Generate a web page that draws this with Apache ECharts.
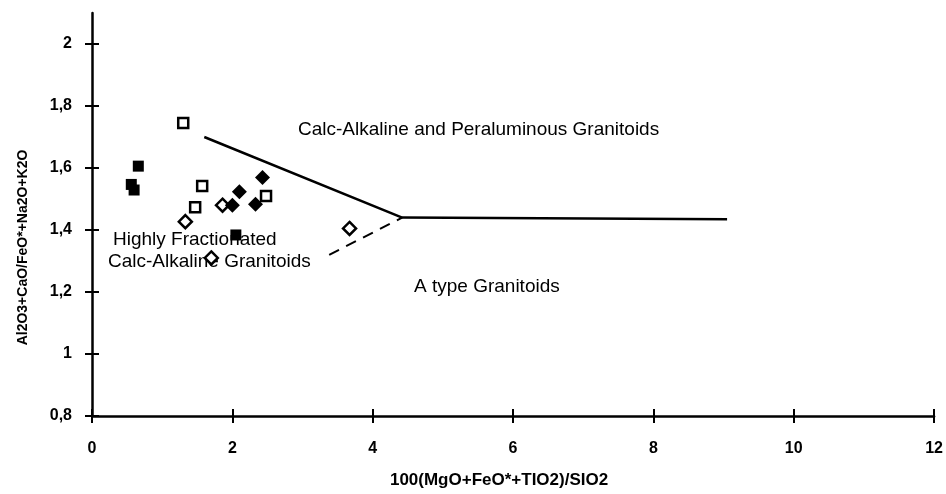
<!DOCTYPE html>
<html>
<head>
<meta charset="utf-8">
<script src="https://cdn.jsdelivr.net/npm/echarts@6/dist/echarts.min.js"></script>
<style>
  html, body { margin: 0; padding: 0; background: #fff; }
  #chart { width: 946px; height: 494px; }
</style>
</head>
<body>
<div id="chart"></div>
<script>
  // tick values
  var xTicks = [0, 2, 4, 6, 8, 10, 12];
  var yTicks = [0.8, 1, 1.2, 1.4, 1.6, 1.8, 2];

  // samples
  var openSquares = [[1.30, 1.745], [1.57, 1.542], [1.47, 1.473], [2.48, 1.510]];
  var filledSquares = [[0.66, 1.606], [0.56, 1.547], [0.60, 1.529], [2.05, 1.384]];
  var openDiamonds = [[1.33, 1.427], [1.86, 1.480], [1.70, 1.310], [3.67, 1.405]];
  var filledDiamonds = [[2.00, 1.480], [2.10, 1.523], [2.43, 1.569], [2.33, 1.483]];

  // field boundaries
  var solidBoundary = [[1.60, 1.700], [4.42, 1.440], [9.05, 1.435]];
  var dashedBoundary = [[3.38, 1.320], [4.42, 1.440]];

  var black = '#000';
  var axisFont = 'Liberation Sans';
  var fieldFont = '19px "Liberation Sans"';

  function commaFmt (v) {
    return String(v).replace('.', ',');
  }

  var chart = echarts.init(document.getElementById('chart'));

  chart.setOption({
    animation: false,
    backgroundColor: '#fff',
    grid: { left: 92, right: 8, top: 13, bottom: 76 },
    xAxis: [
      {
        type: 'value', min: 0, max: 12, position: 'bottom',
        name: '100(MgO+FeO*+TIO2)/SIO2',
        nameLocation: 'middle', nameGap: 56,
        nameTextStyle: { fontFamily: axisFont, fontWeight: 'bold', fontSize: 17, color: black, padding: [0, 28, 0, 0] },
        axisLine: { onZero: false, lineStyle: { color: black, width: 2.5 } },
        axisTick: { customValues: xTicks, length: 7, lineStyle: { color: black, width: 2 } },
        axisLabel: { customValues: xTicks, margin: 25, fontFamily: axisFont, fontWeight: 'bold', fontSize: 16, color: black },
        splitLine: { show: false }
      },
      {
        // inner half of the crossing ticks
        type: 'value', min: 0, max: 12, position: 'bottom',
        axisLine: { show: false },
        axisTick: { customValues: xTicks, inside: true, length: 7, lineStyle: { color: black, width: 2 } },
        axisLabel: { show: false },
        splitLine: { show: false }
      }
    ],
    yAxis: [
      {
        type: 'value', min: 0.8, max: 2.1, position: 'left',
        name: 'Al2O3+CaO/FeO*+Na2O+K2O',
        nameLocation: 'middle', nameGap: 62,
        nameTextStyle: { fontFamily: axisFont, fontWeight: 'bold', fontSize: 14, color: black, padding: [0, 66, 0, 0] },
        axisLine: { onZero: false, lineStyle: { color: black, width: 2.5 } },
        axisTick: { customValues: yTicks, length: 7, lineStyle: { color: black, width: 2 } },
        axisLabel: { customValues: yTicks, margin: 20, formatter: commaFmt, fontFamily: axisFont, fontWeight: 'bold', fontSize: 16, color: black },
        splitLine: { show: false }
      },
      {
        type: 'value', min: 0.8, max: 2.1, position: 'left',
        axisLine: { show: false },
        axisTick: { customValues: yTicks, inside: true, length: 7, lineStyle: { color: black, width: 2 } },
        axisLabel: { show: false },
        splitLine: { show: false }
      }
    ],
    graphic: [
      { type: 'text', left: 298, top: 120, style: { text: 'Calc-Alkaline and Peraluminous Granitoids', font: fieldFont, fill: black } },
      { type: 'text', left: 113, top: 230, style: { text: 'Highly Fractionated', font: fieldFont, fill: black } },
      { type: 'text', left: 108, top: 252, style: { text: 'Calc-Alkaline Granitoids', font: fieldFont, fill: black } },
      { type: 'text', left: 414, top: 277, style: { text: 'A type Granitoids', font: fieldFont, fill: black } }
    ],
    series: [
      {
        type: 'line', data: solidBoundary, symbol: 'none', silent: true,
        lineStyle: { color: black, width: 2.5 }
      },
      {
        type: 'line', data: dashedBoundary, symbol: 'none', silent: true,
        lineStyle: { color: black, width: 2, type: [11, 8] }
      },
      {
        type: 'scatter', data: openSquares, symbol: 'rect', symbolSize: 10,
        itemStyle: { color: '#fff', borderColor: black, borderWidth: 2.5, opacity: 1 }
      },
      {
        type: 'scatter', data: filledSquares, symbol: 'rect', symbolSize: 11,
        itemStyle: { color: black, opacity: 1 }
      },
      {
        type: 'scatter', data: openDiamonds, symbol: 'diamond', symbolSize: 13,
        itemStyle: { color: '#fff', borderColor: black, borderWidth: 2.5, opacity: 1 }
      },
      {
        type: 'scatter', data: filledDiamonds, symbol: 'diamond', symbolSize: 15,
        itemStyle: { color: black, opacity: 1 }
      }
    ]
  });
</script>
</body>
</html>
